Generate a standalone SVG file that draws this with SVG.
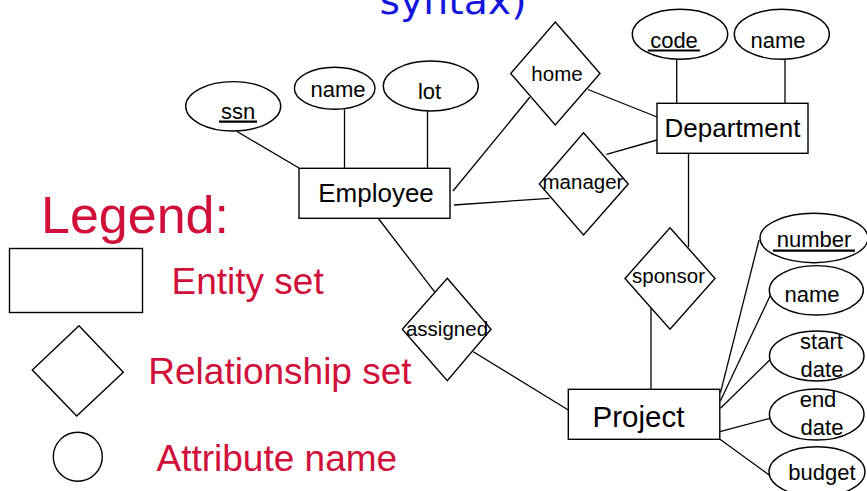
<svg xmlns="http://www.w3.org/2000/svg" width="867" height="491" viewBox="0 0 867 491">
  <style>
    .shape { fill: #fff; stroke: #000; stroke-width: 1.4; }
    .edge { stroke: #000; stroke-width: 1.3; fill: none; }
    .key { stroke: #000; stroke-width: 2.2; }
    text { font-family: "Liberation Sans", Arial, sans-serif; fill: #000; text-anchor: middle; }
    .ent { font-size: 26px; }
    .rel { font-size: 20.5px; }
    .att { font-size: 22px; }
    .legend { fill: #d0103a; text-anchor: start; font-size: 37px; }
    .title { fill: #1414dc; font-family: "DejaVu Sans", sans-serif; font-size: 38px; }
  </style>

  <!-- page heading (cropped at the top edge) -->
  <text class="title" x="453" y="13.5" textLength="147" lengthAdjust="spacingAndGlyphs">syntax)</text>

  <!-- connectors -->
  <g id="connectors">
    <line class="edge" x1="237" y1="131.5" x2="299" y2="168"/>
    <line class="edge" x1="344.5" y1="109.3" x2="344.5" y2="168"/>
    <line class="edge" x1="427.5" y1="111" x2="427.5" y2="168"/>
    <line class="edge" x1="453" y1="191" x2="530" y2="97"/>
    <line class="edge" x1="588" y1="89.5" x2="657" y2="117"/>
    <line class="edge" x1="454" y1="205" x2="549.5" y2="198.3"/>
    <line class="edge" x1="606.5" y1="154.3" x2="657" y2="140"/>
    <line class="edge" x1="676.7" y1="59" x2="676.7" y2="103"/>
    <line class="edge" x1="785" y1="59" x2="785" y2="103"/>
    <line class="edge" x1="688.5" y1="153" x2="688.5" y2="247"/>
    <line class="edge" x1="651" y1="308" x2="651" y2="389"/>
    <line class="edge" x1="378" y1="218" x2="435" y2="292.3"/>
    <line class="edge" x1="473.3" y1="351.7" x2="568.3" y2="410"/>
    <line class="edge" x1="720.5" y1="392.7" x2="759" y2="240"/>
    <line class="edge" x1="720.5" y1="400.7" x2="770.5" y2="295"/>
    <line class="edge" x1="720.5" y1="408.3" x2="770.5" y2="359.3"/>
    <line class="edge" x1="720" y1="431.7" x2="770" y2="418.3"/>
    <line class="edge" x1="720" y1="439.3" x2="771.5" y2="476.7"/>
  </g>

  <!-- entity sets -->
  <g id="employee">
    <rect class="shape" x="299" y="168.3" width="151" height="50"/>
    <text class="ent" x="376" y="202.3">Employee</text>
  </g>
  <g id="department">
    <rect class="shape" x="657" y="103.3" width="151" height="50"/>
    <text class="ent" x="732.5" y="137">Department</text>
  </g>
  <g id="project">
    <rect class="shape" x="568.3" y="389.3" width="151.5" height="50"/>
    <text class="ent" x="638.5" y="427" style="font-size:29.5px">Project</text>
  </g>

  <!-- relationship sets -->
  <g id="home">
    <polygon class="shape" points="555.3,22 600,73.5 555.3,125 510.7,73.5"/>
    <text class="rel" x="557" y="80.5">home</text>
  </g>
  <g id="manager">
    <polygon class="shape" points="583.5,132.7 628.3,184 583.5,235 539.3,184"/>
    <text class="rel" x="583" y="189.3">manager</text>
  </g>
  <g id="sponsor">
    <polygon class="shape" points="670,227.7 715,278.5 670,329.3 625,278.5"/>
    <text class="rel" x="668.5" y="283.3">sponsor</text>
  </g>
  <g id="assigned">
    <polygon class="shape" points="447.3,278.3 491,329.3 447.3,380.7 402.3,329.3"/>
    <text class="rel" x="447" y="336">assigned</text>
  </g>

  <!-- Employee attributes -->
  <g id="emp-ssn">
    <ellipse class="shape" cx="233.2" cy="106.3" rx="47.5" ry="24.7"/>
    <text class="att" x="238" y="119.3">ssn</text>
    <line class="key" x1="219" y1="121.6" x2="257" y2="121.6"/>
  </g>
  <g id="emp-name">
    <ellipse class="shape" cx="334.7" cy="88.3" rx="40.3" ry="21"/>
    <text class="att" x="338" y="97.3">name</text>
  </g>
  <g id="emp-lot">
    <ellipse class="shape" cx="430.8" cy="86" rx="47.5" ry="25"/>
    <text class="att" x="429.5" y="99">lot</text>
  </g>

  <!-- Department attributes -->
  <g id="dept-code">
    <ellipse class="shape" cx="680" cy="34.3" rx="47.7" ry="25"/>
    <text class="att" x="674" y="48">code</text>
    <line class="key" x1="647.7" y1="50.5" x2="700" y2="50.5"/>
  </g>
  <g id="dept-name">
    <ellipse class="shape" cx="781.8" cy="34.3" rx="47.5" ry="25"/>
    <text class="att" x="778" y="48">name</text>
  </g>

  <!-- Project attributes -->
  <g id="proj-number">
    <ellipse class="shape" cx="814" cy="238" rx="54" ry="24.7"/>
    <text class="att" x="814" y="246.5">number</text>
    <line class="key" x1="773" y1="250.7" x2="855" y2="250.7"/>
  </g>
  <g id="proj-name">
    <ellipse class="shape" cx="816.3" cy="290.3" rx="47" ry="24.7"/>
    <text class="att" x="812" y="301.5">name</text>
  </g>
  <g id="proj-start">
    <ellipse class="shape" cx="816.7" cy="356" rx="47.3" ry="25"/>
    <text class="att" x="821.5" y="348.5">start</text>
    <text class="att" x="822" y="376.5">date</text>
  </g>
  <g id="proj-end">
    <ellipse class="shape" cx="816.7" cy="414.5" rx="47.3" ry="25.5"/>
    <text class="att" x="818" y="406.7">end</text>
    <text class="att" x="822" y="435">date</text>
  </g>
  <g id="proj-budget">
    <ellipse class="shape" cx="817" cy="471.7" rx="48" ry="25"/>
    <text class="att" x="822" y="480">budget</text>
  </g>

  <!-- legend -->
  <g id="legend">
    <text class="legend" x="41" y="233.3" style="font-size:52px">Legend:</text>
    <rect class="shape" x="9.5" y="248.5" width="133" height="64"/>
    <text class="legend" x="171.5" y="294">Entity set</text>
    <polygon class="shape" points="79,325.7 123.3,372.3 76.7,416 32.3,370"/>
    <text class="legend" x="148.3" y="384.3">Relationship set</text>
    <circle class="shape" cx="77.8" cy="456.7" r="24.5"/>
    <text class="legend" x="156.5" y="471">Attribute name</text>
  </g>
</svg>
